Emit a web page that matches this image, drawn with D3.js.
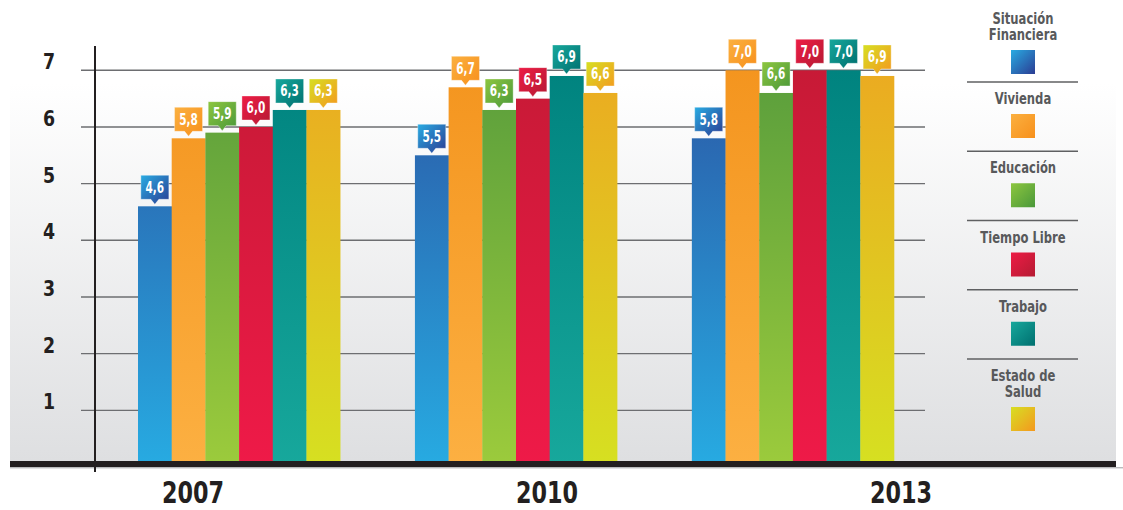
<!DOCTYPE html>
<html>
<head>
<meta charset="utf-8">
<script src="https://cdn.jsdelivr.net/npm/d3@7"></script>
<style>
  html, body { margin: 0; padding: 0; background: #fff; }
  svg { display: block; }
  .cond { font-family: "Liberation Sans Narrow", "DejaVu Sans Condensed", "Arial Narrow", sans-serif; font-weight: bold; }
</style>
</head>
<body>
<div id="chart"></div>
<script>
// --- data ---
const years = ["2007", "2010", "2013"];
const categories = ["Situación Financiera", "Vivienda", "Educación", "Tiempo Libre", "Trabajo", "Estado de Salud"];
const legendLabels = [["Situación", "Financiera"], ["Vivienda"], ["Educación"], ["Tiempo Libre"], ["Trabajo"], ["Estado de", "Salud"]];
const situacionFinanciera = [4.6, 5.5, 5.8];
const vivienda = [5.8, 6.7, 7.0];
const educacion = [5.9, 6.3, 6.6];
const tiempoLibre = [6.0, 6.5, 7.0];
const trabajo = [6.3, 6.9, 7.0];
const estadoSalud = [6.3, 6.6, 6.9];
const yTicks = [1, 2, 3, 4, 5, 6, 7];

const series = [situacionFinanciera, vivienda, educacion, tiempoLibre, trabajo, estadoSalud];

// colours: [bar top, bar bottom, callout light, callout dark]
const palette = [
  ["#2b5aa7", "#27abe2", "#29abe2", "#2b3c93"],
  ["#f4951f", "#fcb042", "#fbb040", "#f7901c"],
  ["#5a9e3c", "#9ccb3c", "#8dc63f", "#4a983a"],
  ["#c71a36", "#ef1a48", "#ed1c45", "#b51b33"],
  ["#00837f", "#17a89c", "#17a89c", "#006f6f"],
  ["#ebab21", "#d6e021", "#d7df23", "#f4981e"]
];

const width = 1123, height = 510;
const fmt = v => d3.format(".1f")(v).replace(".", ",");

// squeeze text horizontally, the original uses a condensed face
const squeeze = (x, y, s) => `translate(${x},${y}) scale(${s},1)`;

const svg = d3.select("#chart").append("svg")
  .attr("width", width)
  .attr("height", height);

const defs = svg.append("defs");

const y = d3.scaleLinear().domain([0, 7]).range([467, 70.3]);

const x0 = d3.scaleBand()
  .domain(years)
  .range([138, 894])
  .paddingInner(0.27)
  .paddingOuter(0);

const x1 = d3.scaleBand()
  .domain(categories)
  .range([0, x0.bandwidth()]);

// year labels sit off the group centres in the original
const xLabel = d3.scalePoint().domain(years).range([193, 901]);

// background panel gradient
const bg = defs.append("linearGradient")
  .attr("id", "bg").attr("x1", 0).attr("y1", 0).attr("x2", 0).attr("y2", 1);
bg.append("stop").attr("offset", "0.18").attr("stop-color", "#ffffff");
bg.append("stop").attr("offset", "1").attr("stop-color", "#dedfe1");

palette.forEach((c, i) => {
  const g = defs.append("linearGradient")
    .attr("id", "bar" + i)
    .attr("gradientUnits", "userSpaceOnUse")
    .attr("x1", 0).attr("x2", 0)
    .attr("y1", y(7)).attr("y2", y(0));
  g.append("stop").attr("offset", 0).attr("stop-color", c[0]);
  g.append("stop").attr("offset", 1).attr("stop-color", c[1]);

  const t = defs.append("linearGradient")
    .attr("id", "tag" + i)
    .attr("x1", 0).attr("y1", 0).attr("x2", 1).attr("y2", 1);
  t.append("stop").attr("offset", 0).attr("stop-color", c[2]);
  t.append("stop").attr("offset", 1).attr("stop-color", c[3]);
});

svg.append("rect")
  .attr("x", 10).attr("y", 0)
  .attr("width", 1106).attr("height", 461)
  .attr("fill", "url(#bg)");

// grid lines
svg.append("g")
  .selectAll("line")
  .data(yTicks)
  .join("line")
    .attr("x1", 81).attr("x2", 925)
    .attr("y1", d => y(d)).attr("y2", d => y(d))
    .attr("stroke", "#6d6e71")
    .attr("stroke-width", 1.4);

// y tick labels
svg.append("g")
  .selectAll("text")
  .data(yTicks)
  .join("text")
    .attr("class", "cond")
    .attr("transform", d => squeeze(49, y(d) - 1, 0.92))
    .attr("text-anchor", "middle")
    .attr("font-size", 21)
    .attr("fill", "#231f20")
    .text(d => d);

// bars
const rows = [];
years.forEach((yr, yi) => {
  categories.forEach((cat, ci) => {
    rows.push({ year: yr, cat, ci, value: series[ci][yi] });
  });
});

const bars = svg.append("g");
bars.selectAll("rect")
  .data(rows)
  .join("rect")
    .attr("x", d => x0(d.year) + x1(d.cat))
    .attr("y", d => y(d.value))
    .attr("width", x1.bandwidth() + 0.3)
    .attr("height", d => y(0) - y(d.value))
    .attr("fill", d => `url(#bar${d.ci})`);

// callouts
const tagW = 28, tagH = 24;
const tags = svg.append("g")
  .selectAll("g")
  .data(rows)
  .join("g")
    .attr("transform", d => `translate(${x0(d.year) + x1(d.cat) + x1.bandwidth() / 2},${y(d.value)})`);

tags.append("path")
  .attr("d", `M${-tagW / 2},${-7 - tagH} H${tagW / 2} V-7 H4 L0,-2 L-4,-7 H${-tagW / 2} Z`)
  .attr("fill", d => `url(#tag${d.ci})`)
  .attr("stroke", "rgba(255,255,255,0.45)")
  .attr("stroke-width", 0.8);

tags.append("text")
  .attr("class", "cond")
  .attr("transform", squeeze(0, -7 - tagH / 2 + 5.5, 0.78))
  .attr("text-anchor", "middle")
  .attr("font-size", 15)
  .attr("fill", "#fff")
  .text(d => fmt(d.value));

// baseline
svg.append("line")
  .attr("x1", 10).attr("x2", 1123)
  .attr("y1", 467.8).attr("y2", 467.8)
  .attr("stroke", "#9d9fa2").attr("stroke-width", 1);
svg.append("rect")
  .attr("x", 10).attr("y", 461)
  .attr("width", 1106).attr("height", 6)
  .attr("fill", "#231f20");

// vertical axis
svg.append("line")
  .attr("x1", 95).attr("x2", 95)
  .attr("y1", 46).attr("y2", 472)
  .attr("stroke", "#231f20").attr("stroke-width", 2);

// year labels
svg.append("g")
  .selectAll("text")
  .data(years)
  .join("text")
    .attr("class", "cond")
    .attr("transform", d => squeeze(xLabel(d), 503, 0.8))
    .attr("text-anchor", "middle")
    .attr("font-size", 31)
    .attr("fill", "#231f20")
    .text(d => d);

// legend
const lx = 1023;
const sepY = i => 82 + (i - 1) * 69.25;
const legend = svg.append("g");

categories.forEach((cat, i) => {
  const top = i === 0 ? 2 : sepY(i);
  const lines = legendLabels[i];
  if (i > 0) {
    legend.append("line")
      .attr("x1", 967).attr("x2", 1078)
      .attr("y1", top).attr("y2", top)
      .attr("stroke", "#5f6062").attr("stroke-width", 1.5);
  }
  lines.forEach((ln, k) => {
    legend.append("text")
      .attr("class", "cond")
      .attr("transform", squeeze(lx, top + 17 + 16 * k + 5, 0.86))
      .attr("text-anchor", "middle")
      .attr("font-size", 15)
      .attr("fill", "#58595b")
      .text(ln);
  });
  legend.append("rect")
    .attr("x", lx - 12)
    .attr("y", top + 32 + 16 * (lines.length - 1))
    .attr("width", 24).attr("height", 24)
    .attr("fill", `url(#tag${i})`);
});
</script>
</body>
</html>
